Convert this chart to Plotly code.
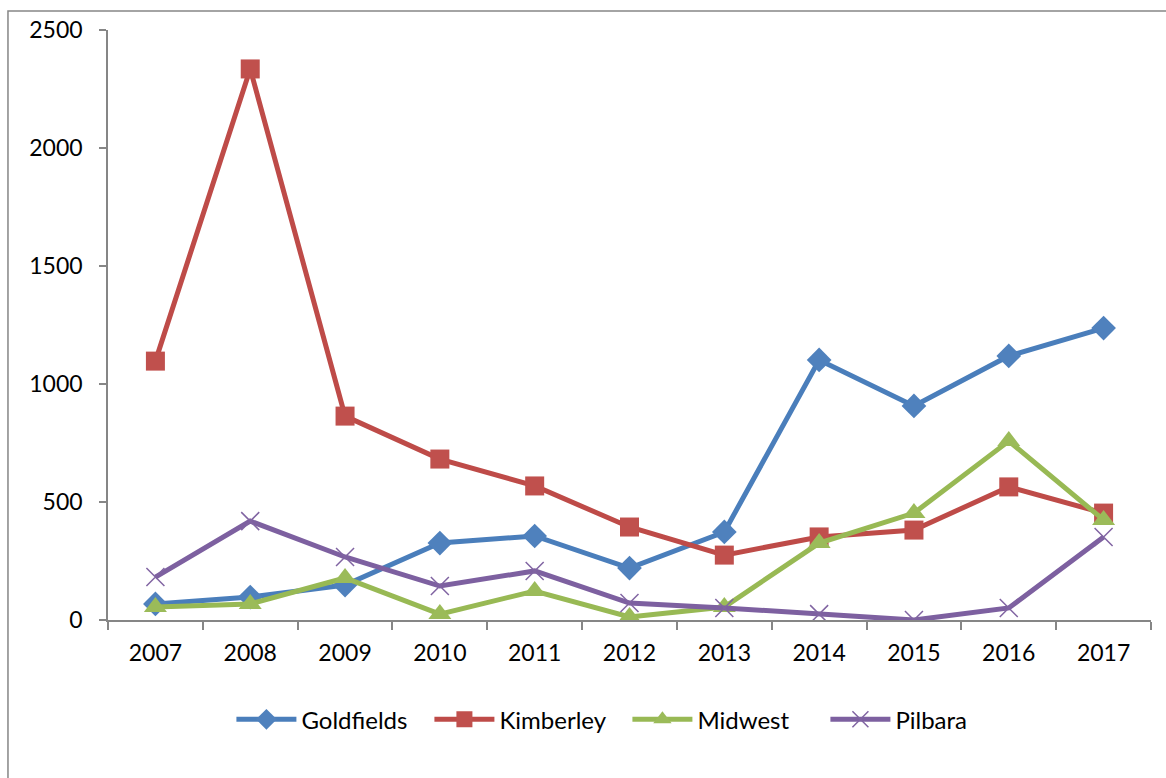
import plotly.graph_objects as go

years = ["2007", "2008", "2009", "2010", "2011", "2012", "2013", "2014", "2015", "2016", "2017"]
goldfields = [68, 97, 148, 326, 356, 220, 373, 1102, 907, 1119, 1237]
kimberley = [1097, 2335, 864, 682, 568, 394, 275, 352, 381, 564, 453]
midwest = [55, 68, 178, 25, 123, 13, 55, 326, 453, 758, 424]
pilbara = [182, 419, 267, 144, 208, 72, 51, 25, 0, 51, 352]

y_ticks = [0, 500, 1000, 1500, 2000, 2500]

series = [
    ("Goldfields", goldfields, "#4A7EBB", "#4F81BD", "diamond", 19, 0),
    ("Kimberley", kimberley, "#BE4B48", "#C0504D", "square", 19, 0),
    ("Midwest", midwest, "#98B954", "#9BBB59", "triangle-up", 20, 0),
    ("Pilbara", pilbara, "#7D60A0", "#8064A2", "x-thin", 18, 1.5),
]

fig = go.Figure()
for name, vals, line_col, mark_col, sym, size, mlw in series:
    fig.add_trace(go.Scatter(
        x=years, y=vals, name=name, mode="lines+markers",
        line=dict(color=line_col, width=5),
        marker=dict(symbol=sym, size=size, color=mark_col,
                    line=dict(color=mark_col, width=mlw)),
    ))

axis_grey = "#868686"
font_family = "Lato, 'Open Sans', sans-serif"

fig.update_layout(
    width=1166, height=778,
    margin=dict(l=108, r=15, t=30, b=158),
    paper_bgcolor="white", plot_bgcolor="white",
    font=dict(family=font_family, size=23, color="black"),
    showlegend=True,
    legend=dict(orientation="h", x=0.498, xanchor="center", y=-0.169, yanchor="middle",
                font=dict(size=24), itemwidth=60, entrywidth=123, entrywidthmode="pixels",
                tracegroupgap=0),
    xaxis=dict(type="category", categoryorder="array", categoryarray=years,
               tickson="boundaries", ticks="outside", ticklen=8, tickcolor=axis_grey,
               tickwidth=1.5, showline=True, linecolor=axis_grey, linewidth=1.5,
               showgrid=False, zeroline=False, range=[-0.5, 10.5],
               ticklabelstandoff=12, tickfont=dict(size=23)),
    yaxis=dict(range=[0, 2500], tickvals=y_ticks, ticks="outside", ticklen=7,
               tickcolor=axis_grey, tickwidth=1.5, showline=True, linecolor=axis_grey,
               linewidth=1.5, showgrid=False, zeroline=False,
               ticklabelstandoff=12, tickfont=dict(size=23)),
    shapes=[dict(type="rect", xref="paper", yref="paper",
                 x0=-0.0959, x1=1.06, y0=-0.32, y1=1.0322,
                 line=dict(color=axis_grey, width=1.5), fillcolor="rgba(0,0,0,0)",
                 layer="below")],
)

fig.write_html("out.html")
